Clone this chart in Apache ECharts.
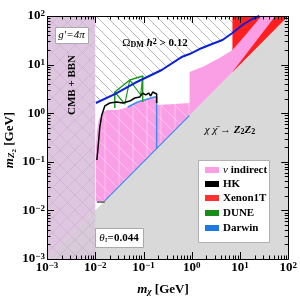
<!DOCTYPE html>
<html><head><meta charset="utf-8">
<script src="https://cdn.jsdelivr.net/npm/echarts@6/dist/echarts.min.js"></script>
<style>html,body{margin:0;padding:0;background:#fff}#c{width:300px;height:299px}</style>
</head><body><div id="c"></div>
<script>
// ---------- data (GeV) ----------
const xTickExps = [-3, -2, -1, 0, 1, 2];
const yTickExps = [-3, -2, -1, 0, 1, 2];
const relicLine = [[0.0103,1.62],[0.0254,2.48],[0.0658,4.18],[0.238,7.74],[0.615,14.3],[0.90,16.5],[1.45,20.9],[2.33,25.3],[4.33,32.1],[6.97,44.7],[11.2,65.3],[18.0,86.7],[25.2,100]];
const overabundant = [[0.01,100],[0.01,1.62]].concat(relicLine);
const kinematicForbidden = [[0.001,0.001],[100,0.001],[100,100]];
const cmbUpper = [[0.001,0.001],[0.01,0.01],[0.01,100],[0.001,100]];
const cmbLower = [[0.001,0.001],[0.01,0.001],[0.01,0.01]];
const nuIndirect = [[0.01029,0.0156],[0.01029,0.175],[0.01078,0.410],[0.01187,0.724],[0.01368,1.01],[0.01738,1.164],[0.0293,1.164],[0.0472,1.342],[0.0759,1.70],[0.1221,1.96],[0.1874,2.154],[0.1874,1.475],[0.4414,1.546],[0.9006,1.622],[0.9006,7.04],[1.839,9.36],[3.753,13.67],[6.966,19.97],[13.56,42.6],[27.68,100],[53.9,100],[6.7,6.7],[0.0157,0.0157]];
const darwinArea = [[0.0103,0.0156],[0.0103,0.9],[0.0293,1.164],[0.0472,1.342],[0.1874,2.154],[0.1874,1.475],[0.9006,1.622],[0.9006,0.9006],[0.0157,0.0157]];
const xenon1T = [[6.97,100],[100,100],[6.97,6.97]];
const hkMain = [[0.01079,0.109],[0.01132,0.175],[0.01245,0.520],[0.01368,0.918],[0.01578,1.41],[0.02004,1.622],[0.02794,1.70],[0.0372,1.622],[0.0519,1.78],[0.0658,2.055],[0.0835,2.154],[0.0962,2.60],[0.111,2.37],[0.128,2.60],[0.141,2.26],[0.155,2.73],[0.1874,2.48],[0.1874,1.622]];
const hkBottom = [[0.01079,0.0149],[0.01578,0.0149]];
const duneLine = [[0.0254,1.28],[0.0254,2.73],[0.0519,4.82],[0.0962,5.83],[0.0962,1.70]];
const duneZig = [[0.0254,2.73],[0.0409,1.546],[0.0519,4.82],[0.0875,2.37],[0.0962,5.83]];
const darwinTop = [[0.0472,1.342],[0.0759,1.70],[0.1221,1.96],[0.170,2.154],[0.1874,2.154],[0.1874,0.1874]];
const darwinDiag = [[0.0157,0.0157],[0.90,0.90]];
const legendNames = ['ν indirect','HK','Xenon1T','DUNE','Darwin'];

// ---------- styles ----------
const SERIF = '"Liberation Serif","DejaVu Serif",serif';
const C = {gray:'#d9d9d9', purU:'#dfc6e0', purL:'#d8cad9', pink:'#fa9fe6', red:'#ff1f1f',
  blue:'#0b20d8', black:'#000', green:'#1f9a1f', darwin:'#3b8fe8'};
const legendColors = [C.pink, '#000', '#ff3030', '#1a8c1a', '#1f78e0'];

function pattern(size, color, lw, dirs){
  const c = document.createElement('canvas'); c.width = size; c.height = size;
  const g = c.getContext('2d'); g.strokeStyle = color; g.lineWidth = lw;
  for (const d of dirs){
    if (d === '|'){ g.beginPath(); g.moveTo(size/2,0); g.lineTo(size/2,size); g.stroke(); continue; }
    for (const k of [-size, 0, size]){
      g.beginPath();
      if (d === '\\'){ g.moveTo(k,0); g.lineTo(k+size,size); }
      else { g.moveTo(k+size,0); g.lineTo(k,size); }
      g.stroke();
    }
  }
  return {image: c, repeat: 'repeat'};
}
const hatchOmega = pattern(10, '#9a9a9a', 0.7, ['\\']);
const hatchCmb = pattern(15, 'rgba(165,120,170,0.3)', 0.7, ['/','\\']);
const hatchDarwin = pattern(14, 'rgba(255,235,250,0.45)', 1, ['|','\\']);

function poly(pts, style, z){
  return {type:'custom', coordinateSystem:'cartesian2d', z, silent:true, clip:false,
    data:[pts[0]],
    renderItem:(p, api)=>({type:'polygon', shape:{points: pts.map(q=>api.coord(q))}, style})};
}
function line(pts, color, w, z){
  return {type:'line', data:pts, showSymbol:false, silent:true, z, animation:false,
    lineStyle:{color, width:w}, itemStyle:{color}};
}
function ticksSeries(){
  return {type:'custom', coordinateSystem:'cartesian2d', z:20, silent:true, clip:false,
    data:[[1,1]],
    renderItem:(p, api)=>{
      const ch = [];
      const L = (a,b)=>ch.push({type:'line', shape:{x1:a[0],y1:a[1],x2:b[0],y2:b[1]}, style:{stroke:'#000', lineWidth:1}});
      const bl = api.coord([1e-3,1e-3]), tr = api.coord([100,100]);
      for (let d=-3; d<=2; d++){
        for (let k=1; k<=9; k++){
          if (d===2 && k>1) break;
          const v = k*Math.pow(10,d);
          const len = k===1 ? 7 : 3.5;
          const px = Math.round(api.coord([v,1])[0])+0.5;
          const py = Math.round(api.coord([1,v])[1])+0.5;
          L([px,bl[1]],[px,bl[1]-len]); L([px,tr[1]],[px,tr[1]+len]);
          L([bl[0],py],[bl[0]+len,py]); L([tr[0],py],[tr[0]-len,py]);
        }
      }
      ch.push({type:'rect', shape:{x:Math.round(bl[0])+0.5, y:Math.round(tr[1])+0.5, width:Math.round(tr[0]-bl[0]), height:Math.round(bl[1]-tr[1])}, style:{fill:null, stroke:'#000', lineWidth:1}});
      return {type:'group', children:ch};
    }};
}
const tickRich = {
  b:{fontFamily:SERIF, fontWeight:'bold', fontSize:13, lineHeight:13, padding:[5,0,0,0], verticalAlign:'bottom', color:'#000'},
  s:{fontFamily:SERIF, fontWeight:'bold', fontSize:9, lineHeight:9, verticalAlign:'top', color:'#000'}
};
const fmt = v => { const e = Math.round(Math.log10(v)); return '{b|10}{s|' + (e<0 ? '−'+(-e) : e) + '}'; };

const baseRich = {
  n:{fontFamily:SERIF, fontSize:11, lineHeight:11, padding:[3,0,3,0], verticalAlign:'middle', color:'#000'},
  b:{fontFamily:SERIF, fontWeight:'bold', fontSize:11, lineHeight:11, padding:[3,0,3,0], verticalAlign:'middle', color:'#000'},
  i:{fontFamily:SERIF, fontStyle:'italic', fontSize:11, lineHeight:11, padding:[3,0,3,0], verticalAlign:'middle', color:'#000'},
  bi:{fontFamily:SERIF, fontStyle:'italic', fontWeight:'bold', fontSize:11, lineHeight:11, padding:[3,0,3,0], verticalAlign:'middle', color:'#000'},
  sup:{fontFamily:SERIF, fontWeight:'bold', fontSize:8, lineHeight:8, verticalAlign:'top', color:'#000'},
  sub:{fontFamily:SERIF, fontWeight:'bold', fontSize:8, lineHeight:8, verticalAlign:'bottom', color:'#000'},
  isub:{fontFamily:SERIF, fontStyle:'italic', fontSize:8, lineHeight:8, verticalAlign:'bottom', color:'#000'}
};
const axRich = {
  bi:{fontFamily:SERIF, fontStyle:'italic', fontWeight:'bold', fontSize:13, lineHeight:13, padding:[2,0,4,0], verticalAlign:'middle', color:'#000'},
  b:{fontFamily:SERIF, fontWeight:'bold', fontSize:13, lineHeight:13, padding:[2,0,4,0], verticalAlign:'middle', color:'#000'},
  sub:{fontFamily:SERIF, fontStyle:'italic', fontWeight:'bold', fontSize:9, lineHeight:9, padding:[0,0,1,0], verticalAlign:'bottom', color:'#000'},
  ss:{fontFamily:SERIF, fontWeight:'bold', fontSize:7, lineHeight:7, verticalAlign:'bottom', color:'#000'}
};

function txt(x, y, text, rich, extra){
  return Object.assign({type:'text', x, y, z:50, silent:true,
    style:{text, rich, align:'center', verticalAlign:'middle', fill:'#000'}}, extra||{});
}
const legendEls = [{type:'rect', shape:{x:198.5,y:160.5,width:71,height:82}, style:{fill:'#fff', stroke:'#b0b0b0', lineWidth:1}, z:40, silent:true}];
const rowY = [170, 184, 198, 213, 228];
legendNames.forEach((n,i)=>{
  legendEls.push({type:'rect', shape:{x:205, y:rowY[i]-3, width:14, height:6}, style:{fill:legendColors[i]}, z:41, silent:true});
  const t = i===0 ? '{i|ν}{b| indirect}' : '{b|' + n + '}';
  legendEls.push({type:'text', x:223, y:rowY[i], z:41, silent:true, style:{text:t, rich:baseRich, align:'left', verticalAlign:'middle'}});
});

const chart = echarts.init(document.getElementById('c'), null, {renderer:'canvas'});
chart.setOption({
  animation:false,
  backgroundColor:'#fff',
  grid:{left:47, right:11, top:16, bottom:40},
  xAxis:{type:'log', logBase:10, min:1e-3, max:100, splitLine:{show:false}, axisTick:{show:false}, axisLine:{show:false},
    axisLabel:{formatter:fmt, rich:tickRich, margin:2}},
  yAxis:{type:'log', logBase:10, min:1e-3, max:100, splitLine:{show:false}, axisTick:{show:false}, axisLine:{show:false},
    axisLabel:{formatter:fmt, rich:tickRich, margin:2}},
  series:[
    poly(kinematicForbidden, {fill:C.gray}, 1),
    poly(cmbUpper, {fill:C.purU}, 2),
    poly(cmbLower, {fill:C.purL}, 2),
    poly(cmbUpper, {fill:hatchCmb}, 3),
    poly(cmbLower, {fill:hatchCmb}, 3),
    poly(overabundant, {fill:hatchOmega}, 3),
    poly(xenon1T, {fill:C.red}, 4),
    poly(nuIndirect, {fill:C.pink}, 5),
    poly(darwinArea, {fill:hatchDarwin}, 6),
    line(darwinDiag, C.darwin, 1.2, 8),
    line(darwinTop, C.darwin, 1.5, 8),
    line(duneLine, C.green, 1.5, 9),
    line(duneZig, C.green, 1.2, 9),
    line(hkMain, C.black, 1.5, 10),
    line(hkBottom, C.black, 1.2, 10),
    line(relicLine, C.blue, 2, 11),
    ticksSeries()
  ],
  graphic:[
    {type:'rect', shape:{x:55.5,y:27.5,width:33,height:16}, style:{fill:'#fff', stroke:'#aaa', lineWidth:1}, z:45, silent:true},
    txt(71.5, 35.5, '{i|g′=4π}', baseRich),
    {type:'rect', shape:{x:95.5,y:228.5,width:48,height:19}, style:{fill:'#fff', stroke:'#aaa', lineWidth:1}, z:45, silent:true},
    txt(119, 238, '{i|θ}{isub|τ}{b|=0.044}', baseRich),
    txt(72, 85, '{b|CMB + BBN}', baseRich, {rotation:Math.PI/2}),
    txt(155, 43, '{n|Ω}{sub|DM}{n| }{bi|h}{sup|2}{b| > 0.12}', baseRich),
    txt(230, 130, '{i|χ χ̄ → }{bi|Z}{sub|2}{bi|Z}{sub|2}', baseRich),
    txt(163, 291, '{bi|m}{sub|χ}{b| [GeV]}', axRich),
    txt(11, 140, '{bi|m}{sub|Z}{ss|2}{b| [GeV]}', axRich, {rotation:Math.PI/2})
  ].concat(legendEls)
});
</script></body></html>
